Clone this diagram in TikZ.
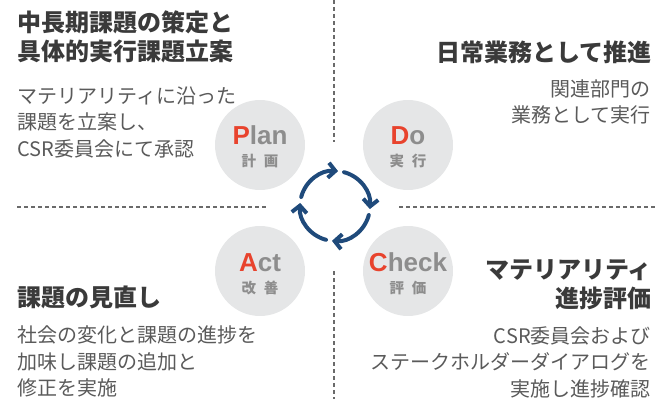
\documentclass[tikz,border=0pt]{standalone}
\usepackage{fontspec}
\setmainfont{Liberation Sans}
\newfontfamily\jp{Noto Sans CJK JP}
\newfontfamily\lat{Liberation Sans}
\usetikzlibrary{arrows.meta,calc}
\definecolor{headc}{HTML}{3A3A3A}
\definecolor{bodyc}{HTML}{5A5A5A}
\definecolor{dashc}{HTML}{6A6A6A}
\definecolor{circc}{HTML}{E5E6E7}
\definecolor{navyc}{HTML}{1F4A7B}
\definecolor{labc}{HTML}{8D8D8D}
\definecolor{redc}{HTML}{E8432D}
\tikzset{
  divider/.style={draw=dashc, line width=1.2pt, dash pattern=on 4pt off 3pt},
  phase/.style={circle, fill=circc, minimum size=90pt, inner sep=0pt},
  cycarrow/.style={draw=navyc, line width=4pt, line cap=round, line join=round,
    -{Straight Barb[length=7pt,width=15pt]}},
  head/.style={font=\jp\bfseries\fontsize{24}{29}\selectfont, text=headc, inner sep=0pt},
  body/.style={font=\jp\fontsize{20}{26.5}\selectfont, text=bodyc, inner sep=0pt},
  entxt/.style={font=\lat\bfseries\fontsize{26}{26}\selectfont, text=labc, inner sep=0pt, anchor=base},
  kjtxt/.style={font=\jp\bfseries\fontsize{14.5}{14.5}\selectfont, text=labc, inner sep=0pt, anchor=base},
}
\begin{document}
\begin{tikzpicture}[x=1pt,y=1pt]
\useasboundingbox (0,0) rectangle (655,399);

% dividers
\draw[divider] (334,399) -- (334,257);
\draw[divider] (334,128) -- (334,0);
\draw[divider] (17,192) -- (268,192);
\draw[divider] (399,192) -- (655,192);

% phase circles
\node[phase] (plan)  at (260,254) {};
\node[phase] (do)    at (408,254) {};
\node[phase] (act)   at (260,128) {};
\node[phase] (check) at (408,128) {};

\node[entxt] (planen)  at (plan.center)  {\textcolor{redc}{P}lan};
\node[entxt] (doen)    at (do.center)    {\textcolor{redc}{D}o};
\node[entxt] (acten)   at (act.center)   {\textcolor{redc}{A}ct};
\node[entxt] (checken) at (check.center) {\textcolor{redc}{C}heck};

\node[kjtxt] (plankj)  at ($(plan.center)+(0,-22)$)  {計\hspace{8pt}画};
\node[kjtxt] (dokj)    at ($(do.center)+(0,-22)$)    {実\hspace{8pt}行};
\node[kjtxt] (actkj)   at ($(act.center)+(0,-22)$)   {改\hspace{8pt}善};
\node[kjtxt] (checkkj) at ($(check.center)+(0,-22)$) {評\hspace{8pt}価};

% cycle
\coordinate (cyc) at (335,193);
\draw[cycarrow] ($(cyc)+(165:35)$) arc[start angle=165, end angle=85, radius=35];
\draw[cycarrow] ($(cyc)+(75:35)$) arc[start angle=75, end angle=-5, radius=35];
\draw[cycarrow] ($(cyc)+(-15:35)$) arc[start angle=-15, end angle=-95, radius=35];
\draw[cycarrow] ($(cyc)+(-105:35)$) arc[start angle=-105, end angle=-185, radius=35];

% texts (base anchor = baseline of the last line)
\node[head, anchor=base west, align=left] (plthead) at (17,338)
  {中長期課題の策定と\\具体的実行課題立案};
\node[body, anchor=base west, align=left] (pltbody) at (17,242.5)
  {マテリアリティに沿った\\課題を立案し、\\CSR委員会にて承認};

\node[head, anchor=base east, align=right] (dohead) at (652,337.5)
  {日常業務として推進};
\node[body, anchor=base east, align=right] (dobody) at (651,276)
  {関連部門の\\業務として実行};

\node[head, anchor=base west, align=left] (acthead) at (17,93)
  {課題の見直し};
\node[body, anchor=base west, align=left] (actbody) at (17,3.5)
  {社会の変化と課題の進捗を\\加味し課題の追加と\\修正を実施};

\node[head, anchor=base east, align=right] (chhead) at (652,92)
  {マテリアリティ\\進捗評価};
\node[body, anchor=base east, align=right] (chbody) at (651,3)
  {CSR委員会および\\ステークホルダーダイアログを\\実施し進捗確認};
\end{tikzpicture}
\end{document}
